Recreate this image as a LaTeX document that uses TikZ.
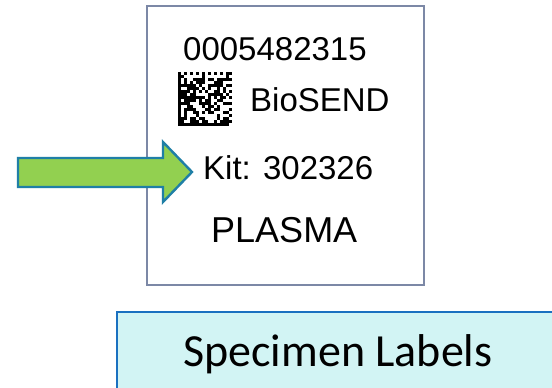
\documentclass[tikz,border=0pt]{standalone}
\usepackage{fontspec}
\setmainfont{Liberation Sans}
\newfontfamily\calfont{Carlito}
\definecolor{labelborder}{HTML}{7C88A6}
\definecolor{arrowfill}{HTML}{92D050}
\definecolor{arrowline}{HTML}{1F7FA6}
\definecolor{specfill}{HTML}{D2F4F4}
\definecolor{specline}{HTML}{1A70C0}
\begin{document}
\begin{tikzpicture}[x=1pt,y=1pt,
  labeltext/.style={anchor=base west,inner sep=0pt,font=\fontsize{33}{36}\selectfont},
  module/.style={fill=black}]
\useasboundingbox (0,0) rectangle (552,388);
\clip (0,0) rectangle (552,388);
\fill[white] (0,0) rectangle (552,388);
% label card
\draw[labelborder,line width=1.6pt] (147,103) rectangle (424,382);
\node[labeltext] (num) at (183,327.5) {0005482315};
\node[labeltext] (bio) at (250,276) {BioSEND};
\node[labeltext] (kit) at (203,208) {Kit: 302326};
\node[labeltext,font=\fontsize{36}{40}\selectfont] (plasma) at (211,145) {PLASMA};
% data matrix
\pgfmathsetseed{11}
\begin{scope}[shift={(178,262)}]
\foreach \i in {0,...,17}{
  \foreach \j in {0,...,17}{
    \pgfmathtruncatemacro\b{rnd<0.5?1:0}
    \ifnum\i=0 \def\b{1}\fi
    \ifnum\j=0 \def\b{1}\fi
    \ifnum\j=17 \pgfmathtruncatemacro\b{mod(\i+1,2)}\fi
    \ifnum\i=17 \pgfmathtruncatemacro\b{mod(\j,2)}\fi
    \ifnum\b=1 \fill[module] (\i*3,\j*3) rectangle ++(3.05,3.05);\fi
  }
}
\end{scope}
% arrow
\coordinate (tip) at (192,216);
\draw[arrowline,line width=2.4pt,fill=arrowfill,line join=miter]
  (18,201) -- (163,201) -- (163,186) -- (tip) -- (163,246) -- (163,230) -- (18,230) -- cycle;
% specimen labels box
\draw[specline,line width=2pt,fill=specfill] (117,312-312+76) rectangle (570,-10);
\node[anchor=base west,inner sep=0pt,font=\calfont\fontsize{46}{50}\selectfont] (spec) at (183,21) {Specimen Labels};
\end{tikzpicture}
\end{document}
